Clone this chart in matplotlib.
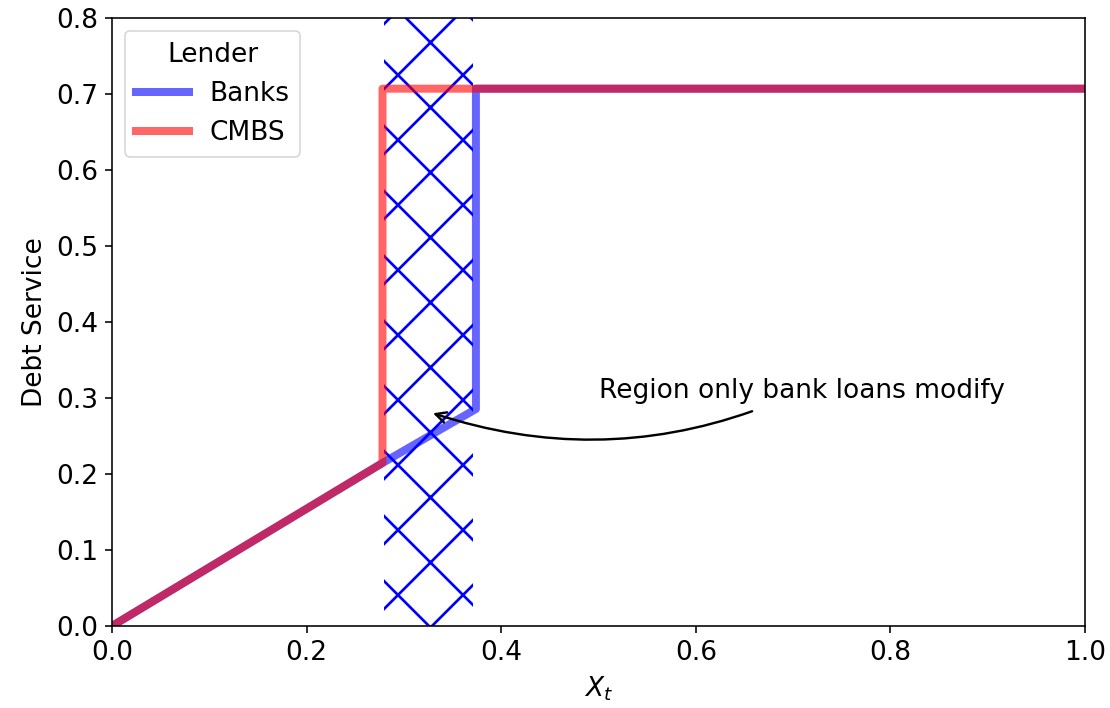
import numpy as np
import matplotlib.pyplot as plt

# Debt service as a function of the state variable X_t
bank_x = [0.0, 0.278, 0.374, 0.374, 1.0]
bank_y = [0.0, 0.2145, 0.2855, 0.707, 0.707]
cmbs_x = [0.0, 0.278, 0.278, 1.0]
cmbs_y = [0.0, 0.2145, 0.707, 0.707]

# band where only bank loans are modified
region = (0.28, 0.371)

# sizes are written for 144 dpi and scaled to the output dpi
DPI = 195
S = 144 / DPI
plt.rcParams.update({
    "font.size": 13.2 * S,
    "lines.linewidth": 4 * S,
    "axes.linewidth": 0.8 * S,
    "axes.labelpad": 4 * S,
    "xtick.major.size": 3.5 * S,
    "ytick.major.size": 3.5 * S,
    "xtick.major.width": 0.8 * S,
    "ytick.major.width": 0.8 * S,
    "xtick.major.pad": 3.5 * S,
    "ytick.major.pad": 3.5 * S,
    "hatch.linewidth": 1.0,
    "patch.linewidth": 0.8 * S,
})

# output size in pixels; the canvas gets extra room on the left/top
# which is cropped off afterwards (this moves where the hatch tiles start)
W, H = 1110, 708
PAD_X, PAD_Y = 57, 55
CW, CH = W + PAD_X, H + PAD_Y

fig = plt.figure(figsize=((CW + 0.01) / DPI, (CH + 0.01) / DPI), dpi=DPI)
left, right, top, bottom = 112, 1085, 18, 626
ax = fig.add_axes([(PAD_X + left) / CW, (H - bottom) / CH,
                   (right - left) / CW, (bottom - top) / CH])

ax.axvspan(region[0], region[1], fill=False, hatch="x",
           edgecolor="blue", linewidth=0)
ax.plot(bank_x, bank_y, color="blue", alpha=0.6, label="Banks")
ax.plot(cmbs_x, cmbs_y, color="red", alpha=0.6, label="CMBS")

ax.annotate("Region only bank loans modify", xy=(0.326, 0.2816),
            xytext=(0.5, 0.3),
            arrowprops=dict(arrowstyle="->", color="black", lw=1.2 * S,
                            shrinkB=2 * S,
                            connectionstyle="arc3,rad=-0.2"))

ax.set_xlim(0, 1)
ax.set_ylim(0, 0.8)
ax.set_xlabel("$X_t$")
ax.set_ylabel("Debt Service")
ax.legend(title="Lender", loc="upper left")

fig.canvas.draw()
img = np.asarray(fig.canvas.buffer_rgba())[PAD_Y:PAD_Y + H, PAD_X:PAD_X + W]
plt.imsave("out.png", img, dpi=DPI)
